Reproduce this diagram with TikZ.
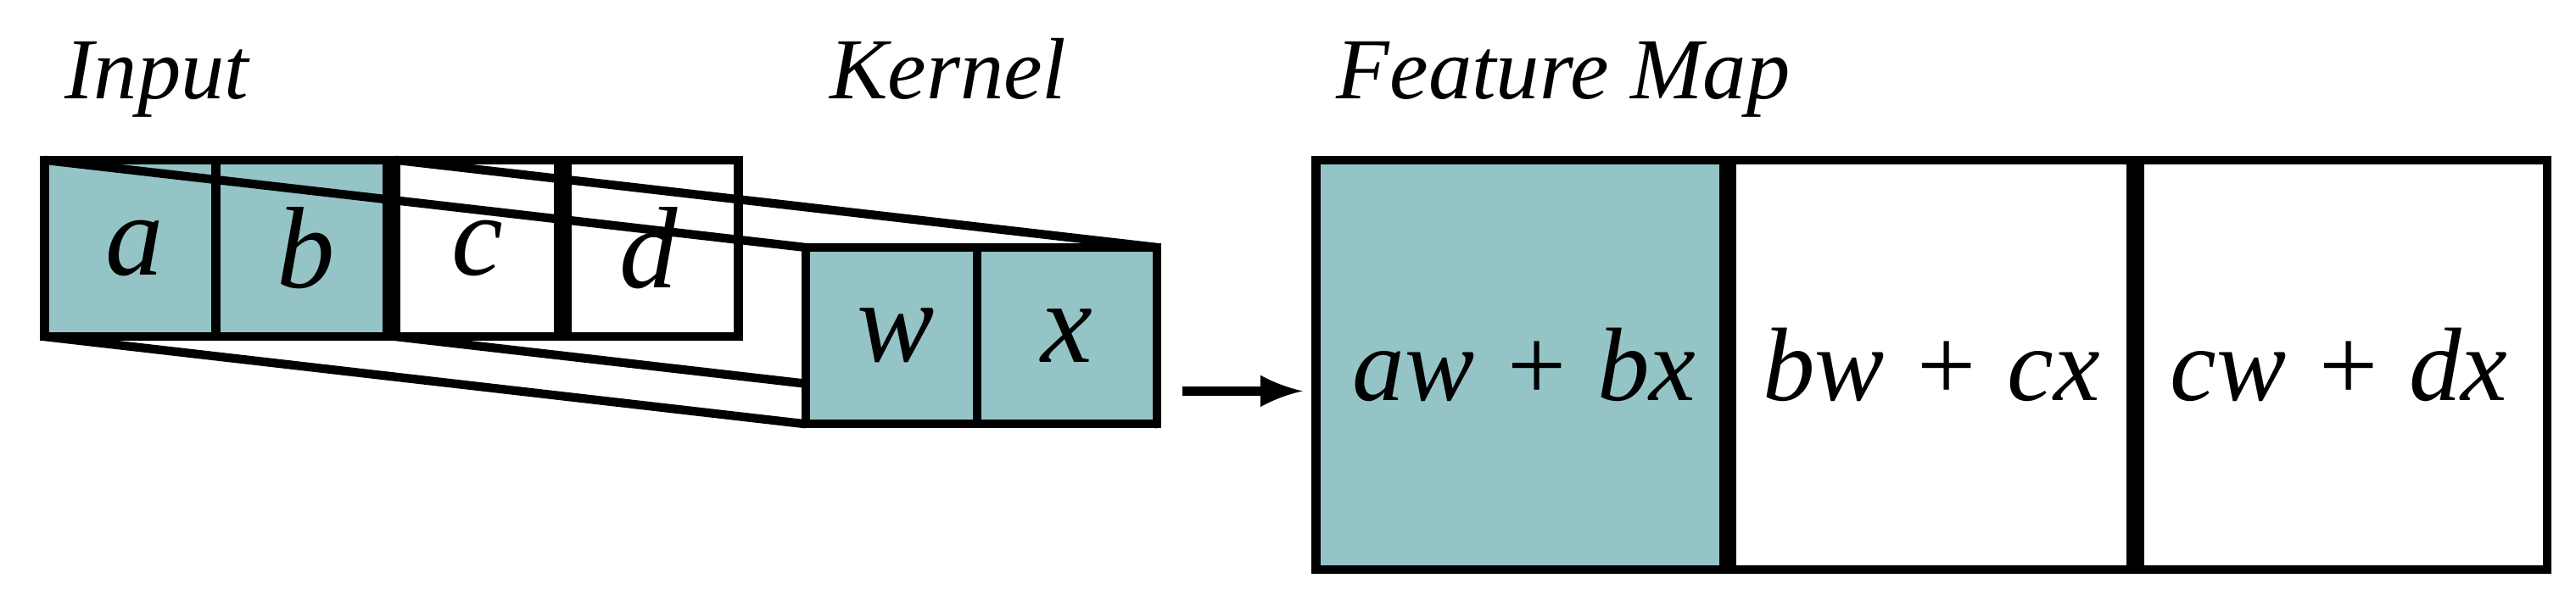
\documentclass[tikz,border=0pt]{standalone}
\usepackage{fontspec}
\setmainfont{Liberation Serif}
\usetikzlibrary{positioning}
\definecolor{teal1}{RGB}{148,196,198}
\begin{document}
\begin{tikzpicture}[x=1cm,y=1cm,
    cell/.style={draw, line width=1.5pt, minimum width=1.09cm, minimum height=1.07cm,
                 inner sep=0pt, outer sep=0pt, font=\fontsize{20}{20}\selectfont\itshape},
    hot/.style={fill=teal1},
    big/.style={draw, line width=1.5pt, minimum width=2.52cm, minimum height=2.48cm,
                inner sep=0pt, outer sep=0pt, font=\fontsize{18}{18}\selectfont\itshape},
    title/.style={font=\fontsize{15}{15}\selectfont\itshape, anchor=base west},
    node distance=-1.5pt]
    \useasboundingbox (0,0) rectangle (15.6,3.67);

    % Input
    \node[cell, hot, anchor=north west] (a) at (0.27,2.70) {a};
    \node[cell, hot, right=of a] (b) {b};
    \node[cell, right=of b] (c) {c};
    \node[cell, right=of c] (d) {d};
    \node[title] (tin) at (0.27,3.07) {Input};

    % Funnel
    \draw[line width=1.5pt] (a.north west) -- (4.88,2.17);
    \draw[line width=1.5pt] (b.north east) -- (7.01,2.17);
    \draw[line width=1.5pt] (a.south west) -- (4.88,1.10);
    \draw[line width=1.5pt] (b.south east) -- (7.01,1.10);

    % Kernel
    \node[cell, hot, anchor=north west] (w) at (4.88,2.17) {w};
    \node[cell, hot, right=of w] (x) {x};
    \node[title] (tk) at (4.90,3.07) {Kernel};

    % Feature map
    \node[big, hot, anchor=north west] (f1) at (7.97,2.70) {aw + bx};
    \node[big, right=of f1] (f2) {bw + cx};
    \node[big, right=of f2] (f3) {cw + dx};
    \node[title] (tf) at (7.97,3.07) {Feature Map};

    \coordinate (s) at (7.16,1.30);
    \draw[-latex, line width=1.5pt] (s) -- ([xshift=-0.08cm]s -| f1.west);
\end{tikzpicture}
\end{document}
